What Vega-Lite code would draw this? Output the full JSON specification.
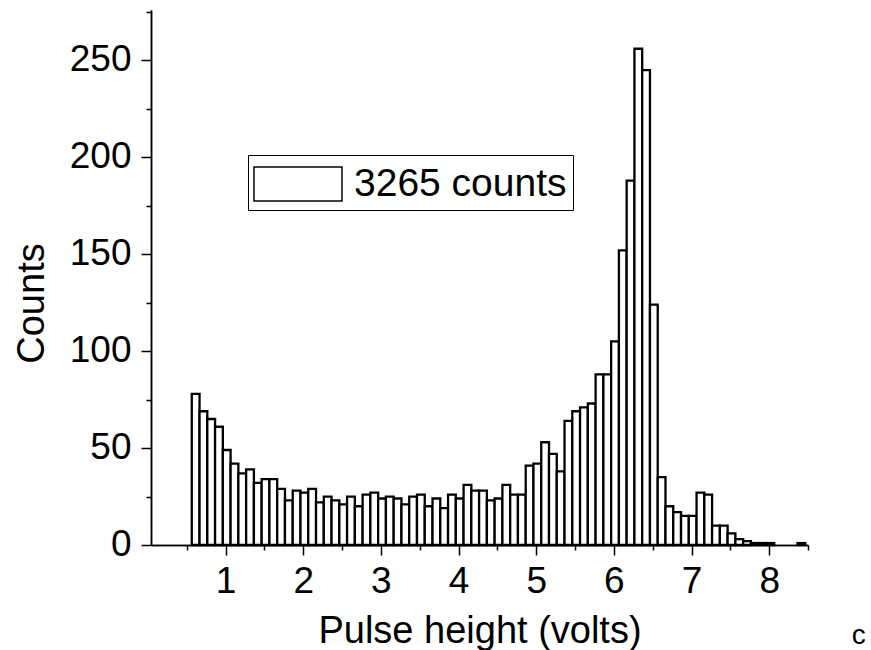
{
  "$schema": "https://vega.github.io/schema/vega-lite/v6.json",
  "width": 657,
  "height": 535,
  "autosize": {"type": "none"},
  "padding": {"left": 151, "top": 10, "right": 63, "bottom": 105},
  "background": "white",
  "config": {
    "view": {"stroke": null},
    "font": "Liberation Sans"
  },
  "title": {
    "text": "c",
    "orient": "bottom",
    "anchor": "end",
    "font": "Liberation Sans",
    "fontSize": 28,
    "fontWeight": "normal",
    "color": "black",
    "dx": 57,
    "offset": -28
  },
  "data": {
    "values": [
      {"lo": 0.565, "hi": 0.665, "count": 78},
      {"lo": 0.665, "hi": 0.765, "count": 69},
      {"lo": 0.765, "hi": 0.865, "count": 65},
      {"lo": 0.865, "hi": 0.965, "count": 61},
      {"lo": 0.965, "hi": 1.065, "count": 49},
      {"lo": 1.065, "hi": 1.165, "count": 42},
      {"lo": 1.165, "hi": 1.265, "count": 37},
      {"lo": 1.265, "hi": 1.365, "count": 39},
      {"lo": 1.365, "hi": 1.465, "count": 32},
      {"lo": 1.465, "hi": 1.565, "count": 34},
      {"lo": 1.565, "hi": 1.665, "count": 34},
      {"lo": 1.665, "hi": 1.765, "count": 29},
      {"lo": 1.765, "hi": 1.865, "count": 23},
      {"lo": 1.865, "hi": 1.965, "count": 28},
      {"lo": 1.965, "hi": 2.065, "count": 27},
      {"lo": 2.065, "hi": 2.165, "count": 29},
      {"lo": 2.165, "hi": 2.265, "count": 22},
      {"lo": 2.265, "hi": 2.365, "count": 25},
      {"lo": 2.365, "hi": 2.465, "count": 23},
      {"lo": 2.465, "hi": 2.565, "count": 21},
      {"lo": 2.565, "hi": 2.665, "count": 25},
      {"lo": 2.665, "hi": 2.765, "count": 20},
      {"lo": 2.765, "hi": 2.865, "count": 26},
      {"lo": 2.865, "hi": 2.965, "count": 27},
      {"lo": 2.965, "hi": 3.065, "count": 24},
      {"lo": 3.065, "hi": 3.165, "count": 25},
      {"lo": 3.165, "hi": 3.265, "count": 24},
      {"lo": 3.265, "hi": 3.365, "count": 21},
      {"lo": 3.365, "hi": 3.465, "count": 25},
      {"lo": 3.465, "hi": 3.565, "count": 26},
      {"lo": 3.565, "hi": 3.665, "count": 20},
      {"lo": 3.665, "hi": 3.765, "count": 24},
      {"lo": 3.765, "hi": 3.865, "count": 19},
      {"lo": 3.865, "hi": 3.965, "count": 26},
      {"lo": 3.965, "hi": 4.065, "count": 24},
      {"lo": 4.065, "hi": 4.165, "count": 31},
      {"lo": 4.165, "hi": 4.265, "count": 28},
      {"lo": 4.265, "hi": 4.365, "count": 28},
      {"lo": 4.365, "hi": 4.465, "count": 23},
      {"lo": 4.465, "hi": 4.565, "count": 24},
      {"lo": 4.565, "hi": 4.665, "count": 31},
      {"lo": 4.665, "hi": 4.765, "count": 26},
      {"lo": 4.765, "hi": 4.865, "count": 26},
      {"lo": 4.865, "hi": 4.965, "count": 41},
      {"lo": 4.965, "hi": 5.065, "count": 42},
      {"lo": 5.065, "hi": 5.165, "count": 53},
      {"lo": 5.165, "hi": 5.265, "count": 47},
      {"lo": 5.265, "hi": 5.365, "count": 38},
      {"lo": 5.365, "hi": 5.465, "count": 64},
      {"lo": 5.465, "hi": 5.565, "count": 69},
      {"lo": 5.565, "hi": 5.665, "count": 71},
      {"lo": 5.665, "hi": 5.765, "count": 73},
      {"lo": 5.765, "hi": 5.865, "count": 88},
      {"lo": 5.865, "hi": 5.965, "count": 88},
      {"lo": 5.965, "hi": 6.065, "count": 105},
      {"lo": 6.065, "hi": 6.165, "count": 152},
      {"lo": 6.165, "hi": 6.265, "count": 188},
      {"lo": 6.265, "hi": 6.365, "count": 256},
      {"lo": 6.365, "hi": 6.465, "count": 245},
      {"lo": 6.465, "hi": 6.565, "count": 124},
      {"lo": 6.565, "hi": 6.665, "count": 35},
      {"lo": 6.665, "hi": 6.765, "count": 20},
      {"lo": 6.765, "hi": 6.865, "count": 17},
      {"lo": 6.865, "hi": 6.965, "count": 15},
      {"lo": 6.965, "hi": 7.065, "count": 15},
      {"lo": 7.065, "hi": 7.165, "count": 27},
      {"lo": 7.165, "hi": 7.265, "count": 26},
      {"lo": 7.265, "hi": 7.365, "count": 10},
      {"lo": 7.365, "hi": 7.465, "count": 10},
      {"lo": 7.465, "hi": 7.565, "count": 6},
      {"lo": 7.565, "hi": 7.665, "count": 3},
      {"lo": 7.665, "hi": 7.765, "count": 2},
      {"lo": 7.765, "hi": 7.865, "count": 1},
      {"lo": 7.865, "hi": 7.965, "count": 1},
      {"lo": 7.965, "hi": 8.065, "count": 1},
      {"lo": 8.365, "hi": 8.465, "count": 1}
    ]
  },
  "resolve": {"axis": {"x": "independent", "y": "independent"}},
  "layer": [
    {
      "mark": {"type": "bar", "opacity": 0},
      "encoding": {
        "x": {
          "field": "lo",
          "type": "quantitative",
          "scale": {"domain": [0.04, 8.5], "nice": false, "zero": false},
          "axis": {
            "orient": "bottom",
            "title": null,
            "values": [0.5, 1.5, 2.5, 3.5, 4.5, 5.5, 6.5, 7.5, 8.5],
            "labels": false,
            "grid": false,
            "domainColor": "black",
            "domainWidth": 1.5,
            "tickColor": "black",
            "tickWidth": 1.5,
            "tickSize": 5
          }
        },
        "x2": {"field": "hi"},
        "y": {
          "field": "count",
          "type": "quantitative",
          "scale": {"domain": [0, 276], "nice": false},
          "axis": {
            "orient": "left",
            "title": null,
            "values": [25, 75, 125, 175, 225, 275],
            "labels": false,
            "grid": false,
            "domainColor": "black",
            "domainWidth": 1.5,
            "tickColor": "black",
            "tickWidth": 1.5,
            "tickSize": 5
          }
        },
        "y2": {"datum": 0}
      }
    },
    {
      "mark": {"type": "bar", "stroke": "black", "strokeWidth": 2.3},
      "encoding": {
        "x": {
          "field": "lo",
          "type": "quantitative",
          "axis": {
            "orient": "bottom",
            "title": "Pulse height (volts)",
            "values": [1, 2, 3, 4, 5, 6, 7, 8],
            "grid": false,
            "domainColor": "black",
            "domainWidth": 1.5,
            "tickColor": "black",
            "tickWidth": 1.5,
            "tickSize": 10,
            "labelFont": "Liberation Sans",
            "labelFontSize": 37,
            "labelColor": "black",
            "labelBaseline": "alphabetic",
            "labelPadding": 37.7,
            "labelFlush": false,
            "labelOverlap": false,
            "titleFont": "Liberation Sans",
            "titleFontSize": 38,
            "titleFontWeight": "normal",
            "titleColor": "black",
            "titleBaseline": "alphabetic",
            "titleY": 97,
            "titleAnchor": "middle"
          }
        },
        "x2": {"field": "hi"},
        "y": {
          "field": "count",
          "type": "quantitative",
          "axis": {
            "orient": "left",
            "title": "Counts",
            "values": [0, 50, 100, 150, 200, 250],
            "grid": false,
            "domainColor": "black",
            "domainWidth": 1.5,
            "tickColor": "black",
            "tickWidth": 1.5,
            "tickSize": 10,
            "labelFont": "Liberation Sans",
            "labelFontSize": 37,
            "labelColor": "black",
            "labelBaseline": "alphabetic",
            "labelOffset": 10,
            "labelPadding": 10,
            "labelFlush": false,
            "labelOverlap": false,
            "titleFont": "Liberation Sans",
            "titleFontSize": 38,
            "titleFontWeight": "normal",
            "titleColor": "black",
            "titleAngle": 270,
            "titleAlign": "center",
            "titleBaseline": "alphabetic",
            "titleX": -108,
            "titleY": 293
          }
        },
        "y2": {"datum": 0},
        "fill": {
          "datum": "3265 counts",
          "type": "nominal",
          "scale": {"range": ["white"]},
          "legend": {
            "orient": "none",
            "legendX": 97,
            "legendY": 145,
            "title": null,
            "symbolType": "M-2,-0.77L2,-0.77L2,0.77L-2,0.77Z",
            "symbolSize": 1936,
            "symbolStrokeColor": "black",
            "symbolStrokeWidth": 1.5,
            "symbolFillColor": "white",
            "symbolOffset": 21,
            "labelFont": "Liberation Sans",
            "labelFontSize": 39,
            "labelColor": "black",
            "labelOffset": 33,
            "labelLimit": 500,
            "strokeColor": "black",
            "padding": 6
          }
        }
      }
    }
  ]
}
